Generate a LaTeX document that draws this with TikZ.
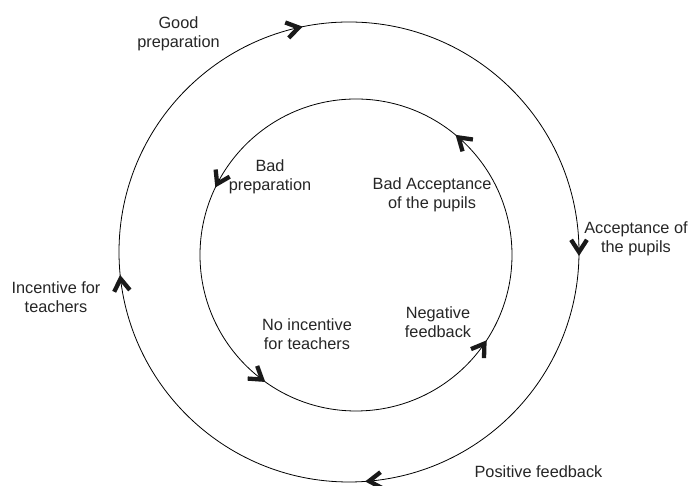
\documentclass[tikz,border=0pt]{standalone}
\usepackage{fontspec}
\setmainfont{Liberation Sans}
\usetikzlibrary{calc}
\newcommand\myvarrow[4]{%
  \pgfmathsetmacro\mvback{#3+90*#4+180}%
  \draw[vtip] ($(#1)+(#3:#2)+(\mvback+33:14.5)$) -- ($(#1)+(#3:#2)$) -- ($(#1)+(#3:#2)+(\mvback-33:14.5)$);%
}
\begin{document}
\begin{tikzpicture}[x=1pt,y=1pt,
  ring/.style={line width=0.8pt, draw=black},
  vtip/.style={line width=4.3pt, line join=miter, miter limit=4, line cap=butt, draw=black!90},
  lbl/.style={align=center, inner sep=0pt, font=\fontsize{16.3}{18.5}\selectfont, text=black!85}]
\useasboundingbox (0,0) rectangle (694,486);
\fill[white] (0,0) rectangle (694,486);
\coordinate (O) at (349,234);
\coordinate (I) at (356,231);
\draw[ring] (O) circle[radius=230];
\draw[ring] (I) circle[radius=156];
% outer circle: clockwise
\myvarrow{O}{230}{102.6}{-1}
\myvarrow{O}{230}{0}{-1}
\myvarrow{O}{230}{275}{-1}
\myvarrow{O}{230}{186.7}{-1}
% inner circle: counterclockwise
\myvarrow{I}{156}{48.9}{1}
\myvarrow{I}{156}{152.9}{1}
\myvarrow{I}{156}{233}{1}
\myvarrow{I}{156}{325.4}{1}
\node[lbl] (good) at (178.5,452) {Good\\preparation};
\node[lbl] (badprep) at (270,309) {Bad\\preparation};
\node[lbl] (badacc) at (432,291) {Bad Acceptance\\of the pupils};
\node[lbl] (acc) at (636,247) {Acceptance of\\the pupils};
\node[lbl] (inc) at (56,189) {Incentive for\\teachers};
\node[lbl] (noinc) at (307,152) {No incentive\\for teachers};
\node[lbl] (neg) at (438,164) {Negative\\feedback};
\node[lbl] (pos) at (538.5,14) {Positive feedback};
\end{tikzpicture}
\end{document}
